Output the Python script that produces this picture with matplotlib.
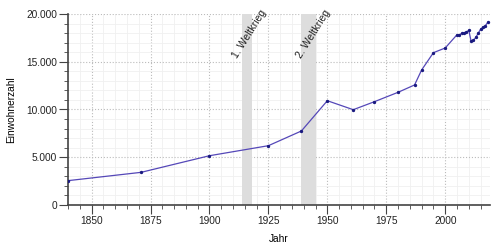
import matplotlib.pyplot as plt
from matplotlib.ticker import FuncFormatter, MultipleLocator

plt.rcParams['font.family'] = ['Liberation Sans', 'DejaVu Sans']

# Einwohnerentwicklung
jahre = [1840, 1871, 1900, 1925, 1939, 1950, 1961, 1970, 1980, 1987,
         1990, 1995, 2000, 2005, 2006, 2007, 2008, 2009, 2010, 2011,
         2012, 2013, 2014, 2015, 2016, 2017, 2018]
einwohner = [2550, 3420, 5160, 6210, 7750, 10920, 9980, 10820, 11800, 12570,
             14140, 15950, 16440, 17830, 17800, 17980, 18020, 18110, 18290, 17140,
             17240, 17560, 17980, 18400, 18620, 18760, 19110]

kriege = [(1914, 1918, '1. Weltkrieg'), (1939, 1945, '2. Weltkrieg')]

fig = plt.figure(figsize=(5, 2.5), dpi=100)
ax = fig.add_axes([0.136, 0.18, 0.844, 0.764])

for start, ende, name in kriege:
    ax.axvspan(start, ende, color='#dddddd', lw=0, zorder=1)
    ax.text(ende + 3.5, 20600, name, rotation=58, ha='right', va='top',
            rotation_mode='anchor', fontsize=7.5, color='#222222', zorder=3)

ax.plot(jahre, einwohner, color='#5548b8', lw=0.9, zorder=4)
ax.plot(jahre, einwohner, ls='none', marker='o', ms=1.4, color='#1a1a80', zorder=5)

ax.set_xlim(1840, 2019)
ax.set_ylim(0, 20000)
ax.xaxis.set_major_locator(MultipleLocator(25))
ax.xaxis.set_minor_locator(MultipleLocator(5))
ax.yaxis.set_major_locator(MultipleLocator(5000))
ax.yaxis.set_minor_locator(MultipleLocator(1000))
ax.yaxis.set_major_formatter(FuncFormatter(lambda v, p: f'{int(v):,}'.replace(',', '.')))

ax.grid(which='major', color='#bbbbbb', ls=':', lw=0.8, zorder=0)
ax.grid(which='minor', color='#f0f0f0', ls='-', lw=0.6, zorder=0)
ax.set_axisbelow(True)

for s in ['top', 'right']:
    ax.spines[s].set_visible(False)
for s in ['left', 'bottom']:
    ax.spines[s].set_color('#444444')
    ax.spines[s].set_linewidth(1.2)

ax.tick_params(which='major', length=6.5, width=0.8, color='#444444', labelsize=7.3,
               labelcolor='#222222', pad=1.5)
ax.tick_params(which='minor', length=3, width=0.6, color='#444444')

ax.set_xlabel('Jahr', fontsize=7.3, labelpad=6)
ax.set_ylabel('Einwohnerzahl', fontsize=7.3, labelpad=7)

fig.savefig('out.png', dpi=100)
